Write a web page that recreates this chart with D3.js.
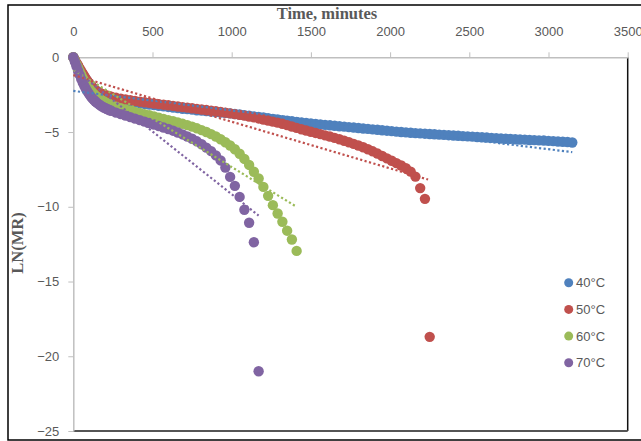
<!DOCTYPE html>
<html><head><meta charset="utf-8">
<script src="https://cdn.jsdelivr.net/npm/d3@7/dist/d3.min.js"></script>
<style>body{margin:0;background:#fff}svg{display:block}</style>
</head><body><svg id="c" width="641" height="441"></svg>
<script>
const times = [0,10,20,30,40,50,60,70,80,90,
100,110,120,130,140,150,160,170,180,190,
200,210,220,230,240,270,
300,330,360,390,420,450,480,510,540,570,
600,630,660,690,720,750,780,810,840,870,
900,930,960,990,1020,1050,1080,1110,1140,1170,
1200,1230,1260,1290,1320,1350,1380,1410,1440,1470,
1500,1530,1560,1590,1620,1650,1680,1710,1740,1770,
1800,1830,1860,1890,1920,1950,1980,2010,2040,2070,
2100,2130,2160,2190,2220,2250,2280,2310,2340,2370,
2400,2430,2460,2490,2520,2550,2580,2610,2640,2670,
2700,2730,2760,2790,2820,2850,2880,2910,2940,2970,
3000,3030,3060,3090,3120,3150];

const seriesNames = ["40°C","50°C","60°C","70°C"];
const seriesColors = ["#4F81BD","#C0504D","#9BBB59","#8064A2"];

const values40 = [0,-0.2,-0.4,-0.6,-0.79,-0.97,-1.15,-1.31,-1.47,-1.62,
-1.75,-1.88,-2.0,-2.1,-2.19,-2.28,-2.35,-2.41,-2.47,-2.52,
-2.56,-2.6,-2.64,-2.67,-2.7,-2.78,
-2.85,-2.91,-2.97,-3.02,-3.07,-3.12,-3.16,-3.2,-3.24,-3.28,
-3.32,-3.36,-3.4,-3.44,-3.47,-3.5,-3.54,-3.57,-3.6,-3.63,
-3.66,-3.69,-3.72,-3.75,-3.79,-3.83,-3.87,-3.91,-3.95,-3.99,
-4.03,-4.07,-4.12,-4.16,-4.2,-4.24,-4.28,-4.32,-4.36,-4.39,
-4.42,-4.46,-4.49,-4.52,-4.55,-4.58,-4.61,-4.64,-4.67,-4.7,
-4.73,-4.76,-4.79,-4.82,-4.85,-4.88,-4.91,-4.94,-4.97,-5.0,
-5.02,-5.05,-5.07,-5.09,-5.11,-5.13,-5.15,-5.17,-5.19,-5.21,
-5.23,-5.25,-5.27,-5.29,-5.31,-5.33,-5.35,-5.37,-5.39,-5.41,
-5.43,-5.45,-5.46,-5.48,-5.5,-5.51,-5.53,-5.54,-5.56,-5.57,
-5.59,-5.61,-5.63,-5.65,-5.67,-5.7];

const values50 = [0,-0.18,-0.37,-0.55,-0.74,-0.92,-1.1,-1.27,-1.44,-1.6,
-1.74,-1.88,-2.0,-2.1,-2.2,-2.28,-2.34,-2.4,-2.45,-2.49,
-2.53,-2.56,-2.59,-2.62,-2.64,-2.71,
-2.77,-2.82,-2.87,-2.92,-2.97,-3.01,-3.05,-3.09,-3.13,-3.17,
-3.21,-3.25,-3.29,-3.33,-3.37,-3.41,-3.45,-3.49,-3.53,-3.57,
-3.61,-3.65,-3.7,-3.75,-3.8,-3.85,-3.9,-3.96,-4.02,-4.09,
-4.16,-4.23,-4.3,-4.37,-4.45,-4.54,-4.63,-4.72,-4.81,-4.9,
-4.98,-5.06,-5.14,-5.22,-5.3,-5.39,-5.48,-5.58,-5.68,-5.79,
-5.9,-6.02,-6.15,-6.29,-6.44,-6.6,-6.76,-6.92,-7.08,-7.24,
-7.42,-7.65,-7.98,-8.75,-9.47,-18.7];

const values60 = [0,-0.23,-0.47,-0.7,-0.94,-1.17,-1.4,-1.59,-1.78,-1.95,
-2.09,-2.23,-2.35,-2.46,-2.56,-2.65,-2.73,-2.81,-2.88,-2.94,
-3.0,-3.05,-3.1,-3.14,-3.18,-3.3,
-3.4,-3.49,-3.57,-3.65,-3.73,-3.8,-3.88,-3.96,-4.04,-4.12,
-4.2,-4.28,-4.36,-4.45,-4.54,-4.64,-4.75,-4.87,-5.0,-5.14,
-5.3,-5.48,-5.68,-5.9,-6.15,-6.45,-6.8,-7.2,-7.66,-8.11,
-8.67,-9.27,-9.89,-10.45,-11.0,-11.6,-12.19,-12.95];

const values70 = [0,-0.3,-0.6,-0.9,-1.18,-1.45,-1.7,-1.92,-2.12,-2.3,
-2.46,-2.61,-2.75,-2.86,-2.96,-3.05,-3.13,-3.21,-3.28,-3.34,
-3.39,-3.44,-3.49,-3.54,-3.58,-3.7,
-3.8,-3.9,-4.0,-4.1,-4.2,-4.3,-4.4,-4.5,-4.6,-4.7,
-4.8,-4.91,-5.03,-5.16,-5.3,-5.45,-5.62,-5.82,-6.04,-6.28,
-6.56,-6.9,-7.38,-8.0,-8.6,-9.34,-10.2,-11.07,-12.37,-21.0];

// linear trendlines (dotted)
const trendIntercepts = [-2.25,-1.19,-0.84,-0.76];
const trendSlopes = [-0.0013,-0.00312,-0.0065,-0.0084];
const trendEnds = [3150,2240,1400,1170];

const xTicks = [0,500,1000,1500,2000,2500,3000,3500];
const yTicks = [0,-5,-10,-15,-20,-25];
const xTitle = "Time, minutes";
const yTitle = "LN(MR)";

const allValues = [values40, values50, values60, values70];

const svg = d3.select("#c");
const x = d3.scaleLinear().domain([0,3500]).range([73.3,627.7]);
const y = d3.scaleLinear().domain([0,-25]).range([57.3,431]);

// outer frame
svg.append("rect").attr("x",8).attr("y",5).attr("width",660).attr("height",435)
  .attr("fill","none").attr("stroke","#000").attr("stroke-width",1.5);

// plot area right/bottom border
svg.append("line").attr("x1",x(3500)).attr("x2",x(3500)).attr("y1",y(0)).attr("y2",y(-25))
  .attr("stroke","#111").attr("stroke-width",1.5);
svg.append("line").attr("x1",x(0)).attr("x2",x(3500)).attr("y1",y(-25)).attr("y2",y(-25))
  .attr("stroke","#555").attr("stroke-width",2);

const font = "'Liberation Sans', Arial, sans-serif";
// top x axis
const gx = svg.append("g").attr("transform",`translate(0,${y(0)})`)
  .call(d3.axisTop(x).tickValues(xTicks).tickSize(5).tickSizeOuter(0).tickPadding(16).tickFormat(d3.format("d")));
gx.select(".domain").attr("stroke","#BFBFBF").attr("stroke-width",1.5);
gx.selectAll(".tick line").attr("stroke","#BFBFBF").attr("stroke-width",1);
gx.selectAll("text").attr("fill","#595959").style("font-family",font).style("font-size","13px");

// left y axis
const gy = svg.append("g").attr("transform",`translate(${x(0)},0)`)
  .call(d3.axisLeft(y).tickValues(yTicks).tickSize(5).tickSizeOuter(0).tickPadding(9).tickFormat(d3.format("d")));
gy.select(".domain").attr("stroke","#BFBFBF").attr("stroke-width",1.5);
gy.selectAll(".tick line").attr("stroke","#BFBFBF").attr("stroke-width",1);
gy.selectAll("text").attr("fill","#595959").style("font-family",font).style("font-size","13px");

// titles
svg.append("text").attr("x",327).attr("y",19).attr("text-anchor","middle")
  .attr("fill","#595959").style("font-family","'Liberation Serif','Times New Roman',serif")
  .style("font-weight","bold").style("font-size","16.5px").text(xTitle);
svg.append("text").attr("transform","translate(23,243) rotate(-90)").attr("text-anchor","middle")
  .attr("fill","#595959").style("font-family","'Liberation Serif','Times New Roman',serif")
  .style("font-weight","bold").style("font-size","16.5px").text(yTitle);

// markers
allValues.forEach((vals,i)=>{
  svg.append("g").selectAll("circle").data(vals).join("circle")
    .attr("cx",(d,j)=>x(times[j])).attr("cy",d=>y(d)).attr("r",5.2)
    .attr("fill",seriesColors[i]);
});

// trendlines
trendIntercepts.forEach((b,i)=>{
  svg.append("line")
    .attr("x1",x(0)).attr("y1",y(b))
    .attr("x2",x(trendEnds[i])).attr("y2",y(b+trendSlopes[i]*trendEnds[i]))
    .attr("stroke",seriesColors[i]).attr("stroke-width",2.2)
    .attr("stroke-dasharray","2.2,2.4");
});

// legend
const lg = svg.append("g");
seriesNames.forEach((n,i)=>{
  const yy = 282.7 + i*26.7;
  lg.append("circle").attr("cx",568.7).attr("cy",yy).attr("r",4.5).attr("fill",seriesColors[i]);
  lg.append("text").attr("x",576).attr("y",yy+4.6).attr("fill","#595959")
    .style("font-family",font).style("font-size","13px").text(n);
});
</script></body></html>
